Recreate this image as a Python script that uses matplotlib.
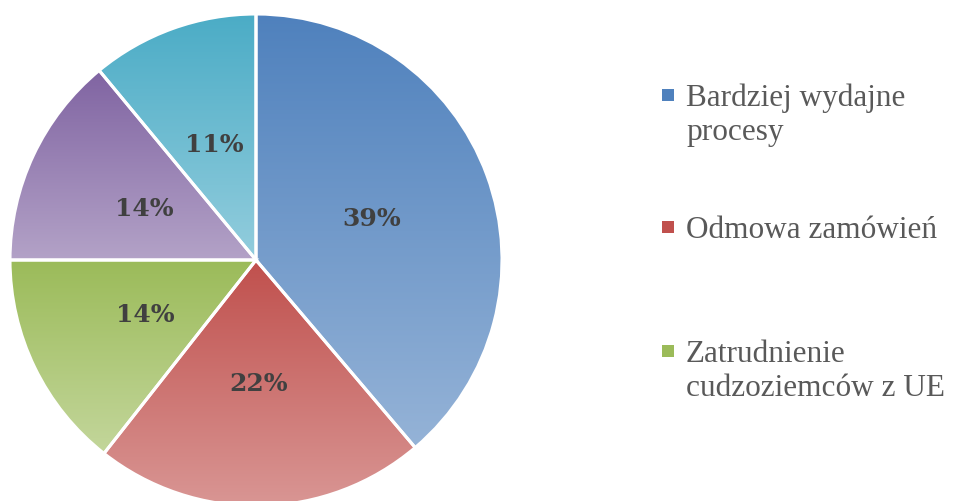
import numpy as np
import matplotlib
matplotlib.use("Agg")
import matplotlib.pyplot as plt
from matplotlib.colors import to_rgb
from matplotlib.patches import Rectangle

labels = ["Bardziej wydajne\nprocesy", "Odmowa zamówień",
          "Zatrudnienie\ncudzoziemców z UE", "Inne", "Brak zmian"]
values = [38.8, 21.8, 14.4, 14.0, 11.0]
top_colors = ["#4F81BD", "#C0504D", "#9BBB59", "#8064A2", "#4BACC6"]
bottom_colors = ["#95B3D7", "#D99694", "#C3D69B", "#B3A2C7", "#93CDDD"]

fig = plt.figure(figsize=(9.57, 5.02), dpi=100)
ax = fig.add_axes([10 / 957, -5 / 502, 492 / 957, 492 / 502])

wedges, texts, autotexts = ax.pie(
    values,
    startangle=90,
    counterclock=False,
    autopct="%.0f%%",
    pctdistance=0.5,
    wedgeprops=dict(edgecolor="white", linewidth=2.2),
    textprops=dict(fontsize=18, fontweight="bold", color="#404040",
                   family="DejaVu Serif"),
)

# vertical gradient inside each slice
for w, c1, c2 in zip(wedges, top_colors, bottom_colors):
    ext = w.get_path().get_extents()
    t = np.linspace(0, 1, 256)[:, None]
    grad = (1 - t) * np.array(to_rgb(c1)) + t * np.array(to_rgb(c2))
    img = ax.imshow(grad[:, None, :], extent=[ext.x0, ext.x1, ext.y0, ext.y1],
                    origin="upper", aspect="auto", zorder=0.5)
    img.set_clip_path(w)
    w.set_facecolor("none")
    w.set_zorder(1)
for t in autotexts:
    t.set_zorder(3)
ax.set_xlim(-1, 1)
ax.set_ylim(-1, 1)
ax.set_aspect("equal")
ax.axis("off")

# legend (only three entries fit)
leg_base = [106, 238, 362]
for lab, c1, y in zip(labels[:3], top_colors, leg_base):
    fig.patches.append(Rectangle((662 / 957, 1 - (y - 4) / 502), 12 / 957, 12 / 502,
                                 transform=fig.transFigure, facecolor=c1,
                                 edgecolor="none"))
    for i, line in enumerate(lab.split("\n")):
        fig.text(686 / 957, 1 - (y + 34 * i) / 502, line, fontsize=22.5,
                 color="#595959", family="Liberation Serif",
                 va="baseline", ha="left")

fig.savefig("out.png", dpi=100)
